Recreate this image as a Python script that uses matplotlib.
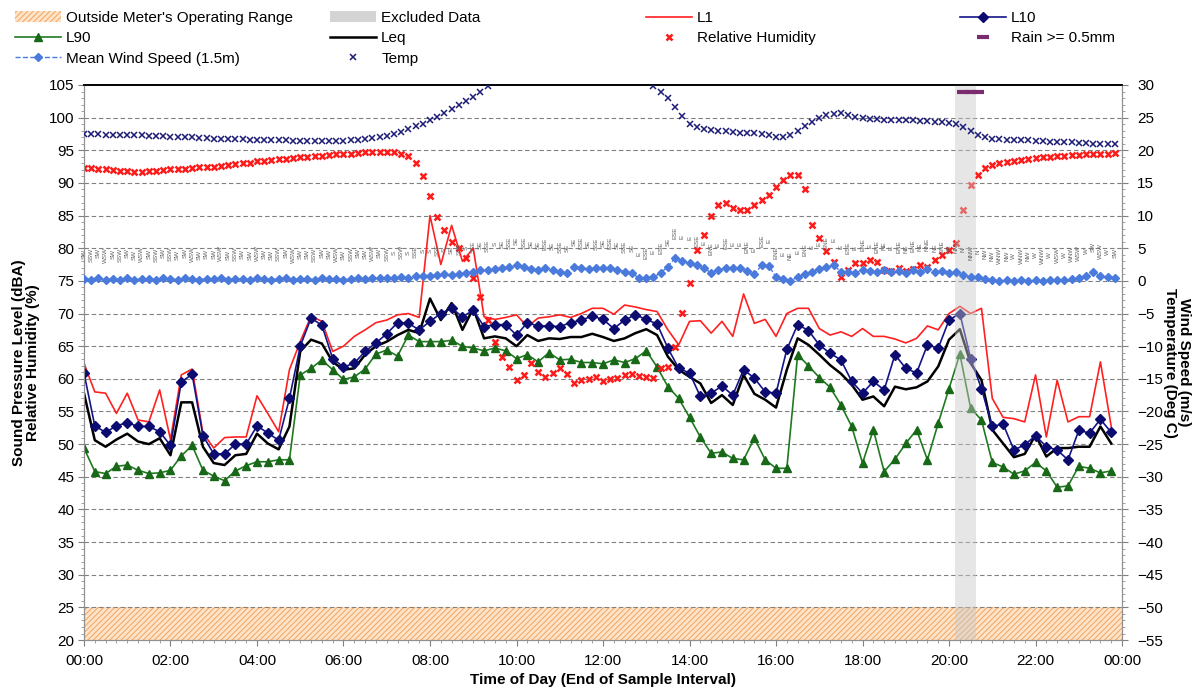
import numpy as np
import matplotlib.pyplot as plt
from matplotlib.lines import Line2D
from matplotlib.patches import Patch
from matplotlib.ticker import MultipleLocator

plt.rcParams['font.family'] = ['Liberation Sans', 'DejaVu Sans']
plt.rcParams['hatch.linewidth'] = 0.7

# noise levels, 15 minute intervals (dBA)
t15 = np.arange(96) * 0.25
L1 = [62.4, 58.0, 57.8, 54.7, 57.8, 53.7, 53.4, 58.3, 50.7, 60.6, 61.5, 51.7,
      49.4, 51.0, 51.1, 51.1, 57.4, 54.7, 51.9, 61.4, 65.7, 69.6, 68.8, 64.2,
      65.0, 66.5, 67.5, 68.6, 69.0, 69.8, 70.0, 69.4, 85.0, 77.5, 83.5, 78.0,
      80.0, 69.5, 69.1, 69.4, 69.8, 68.0, 69.3, 69.5, 69.8, 69.4, 70.0, 70.8,
      70.8, 69.9, 71.3, 71.0, 70.6, 70.3, 67.5, 65.2, 68.8, 68.9, 67.0, 68.8,
      66.5, 73.0, 68.5, 69.1, 66.5, 70.0, 70.8, 70.8, 67.7, 66.7, 67.2, 66.5,
      67.7, 66.5, 66.5, 66.1, 65.5, 66.2, 68.1, 67.5, 70.0, 71.1, 70.0, 70.8,
      57.0, 54.1, 53.9, 53.4, 60.6, 51.1, 59.8, 53.4, 54.2, 54.2, 62.6, 52.7]
L10 = [60.9, 52.8, 51.8, 52.8, 53.3, 52.7, 52.7, 51.9, 49.8, 59.5, 60.7, 51.3,
       48.5, 48.5, 50.0, 50.0, 52.8, 51.7, 50.6, 57.0, 65.0, 69.3, 68.2, 63.1,
       61.8, 62.4, 64.2, 65.5, 66.9, 68.6, 68.5, 67.5, 68.8, 70.0, 70.8, 69.5,
       70.5, 68.0, 68.3, 68.3, 66.7, 68.6, 68.1, 68.1, 68.0, 68.6, 69.0, 69.6,
       69.1, 67.7, 69.0, 69.8, 69.1, 68.4, 64.7, 61.6, 60.9, 57.3, 57.8, 58.9,
       57.5, 61.4, 60.1, 58.0, 57.8, 64.5, 68.3, 67.4, 65.2, 63.9, 62.9, 59.6,
       57.8, 59.6, 58.3, 63.7, 61.6, 60.9, 65.2, 64.7, 69.0, 70.0, 63.1, 58.5,
       52.7, 53.1, 49.1, 49.9, 51.3, 49.6, 49.1, 47.6, 52.1, 51.7, 53.8, 51.8]
Leq = [57.8, 50.6, 49.6, 50.7, 51.6, 50.4, 50.0, 50.9, 48.3, 56.4, 56.4, 49.6,
       47.1, 46.8, 48.3, 48.5, 51.6, 50.1, 49.2, 52.7, 64.2, 66.0, 65.4, 62.6,
       61.4, 61.6, 63.7, 65.0, 65.7, 66.7, 67.5, 67.0, 72.3, 69.0, 71.6, 67.5,
       70.8, 66.2, 66.5, 66.2, 65.0, 66.7, 65.8, 66.2, 66.1, 66.4, 66.4, 66.9,
       66.4, 65.8, 66.2, 67.0, 67.6, 66.7, 63.4, 61.4, 60.3, 59.3, 56.3, 57.5,
       56.0, 60.6, 57.7, 56.8, 55.6, 61.4, 66.2, 65.2, 63.7, 62.1, 60.8, 59.1,
       56.8, 57.3, 55.8, 58.8, 58.4, 58.7, 59.6, 61.9, 66.0, 67.6, 62.4, 59.8,
       52.2, 50.1, 48.0, 48.5, 51.4, 48.1, 49.4, 49.4, 49.6, 49.6, 52.7, 50.1]
L90 = [49.4, 45.8, 45.5, 46.6, 46.8, 46.0, 45.5, 45.6, 46.0, 48.2, 49.8, 46.0,
       45.1, 44.4, 45.9, 46.7, 47.3, 47.3, 47.6, 47.6, 60.6, 61.6, 62.9, 61.4,
       59.9, 60.3, 61.5, 63.8, 64.4, 63.5, 66.7, 65.7, 65.7, 65.7, 65.9, 65.0,
       64.7, 64.3, 64.7, 64.3, 63.1, 63.7, 62.6, 64.0, 62.9, 63.0, 62.5, 62.5,
       62.3, 62.9, 62.5, 63.1, 64.3, 61.8, 58.8, 57.0, 54.1, 51.1, 48.6, 48.8,
       47.8, 47.6, 50.9, 47.6, 46.3, 46.3, 63.7, 62.0, 60.2, 58.7, 56.0, 52.7,
       47.1, 52.2, 45.8, 47.7, 50.1, 52.2, 47.6, 53.2, 58.5, 63.8, 55.5, 53.7,
       47.2, 46.5, 45.4, 45.9, 47.2, 45.9, 43.4, 43.6, 46.6, 46.3, 45.6, 45.9]

# weather, 10 minute intervals
t10 = np.arange(144) / 6
rh = [92.3, 92.3, 92.2, 92.1, 92.0, 91.9, 91.8, 91.7, 91.7, 91.8, 91.9, 92.0,
      92.1, 92.2, 92.2, 92.3, 92.4, 92.4, 92.5, 92.6, 92.7, 92.9, 93.0, 93.1,
      93.3, 93.4, 93.5, 93.6, 93.7, 93.8, 93.9, 94.0, 94.1, 94.2, 94.3, 94.4,
      94.5, 94.5, 94.6, 94.7, 94.7, 94.8, 94.8, 94.7, 94.5, 94.1, 93.0, 91.0,
      88.0, 84.8, 82.8, 81.0, 80.0, 78.5, 75.5, 72.5, 69.0, 65.7, 63.4, 61.8,
      59.8, 60.6, 62.4, 61.1, 60.3, 60.9, 61.6, 60.7, 59.4, 59.8, 60.0, 60.3,
      59.6, 59.9, 60.2, 60.6, 60.7, 60.4, 60.3, 60.1, 61.6, 61.8, 64.9, 70.1,
      74.6, 79.7, 82.1, 85.0, 86.6, 86.9, 86.2, 85.9, 85.9, 86.6, 87.4, 88.2,
      89.4, 90.5, 91.2, 91.2, 89.0, 83.6, 81.6, 79.5, 77.9, 75.6, 76.7, 77.7,
      77.7, 78.2, 77.9, 76.7, 76.5, 77.0, 76.5, 76.8, 77.4, 77.2, 78.2, 79.0,
      79.7, 80.8, 85.9, 89.7, 91.2, 92.3, 92.7, 93.0, 93.2, 93.4, 93.5, 93.7,
      93.8, 93.9, 94.0, 94.1, 94.2, 94.3, 94.3, 94.4, 94.4, 94.5, 94.5, 94.6]
temp = [22.5, 22.5, 22.5, 22.4, 22.4, 22.4, 22.3, 22.3, 22.3, 22.2, 22.2, 22.2,
        22.1, 22.1, 22.0, 22.0, 21.9, 21.9, 21.8, 21.8, 21.7, 21.7, 21.7, 21.6,
        21.6, 21.6, 21.5, 21.5, 21.5, 21.4, 21.4, 21.4, 21.4, 21.4, 21.4, 21.4,
        21.4, 21.5, 21.6, 21.7, 21.9, 22.0, 22.2, 22.5, 22.8, 23.2, 23.7, 24.1,
        24.6, 25.1, 25.7, 26.3, 26.9, 27.5, 28.2, 28.9, 29.8, 30.5, 31.0, 31.5,
        32.0, 32.4, 32.8, 33.1, 33.4, 33.6, 33.8, 34.0, 34.1, 34.2, 34.2, 34.1,
        34.0, 33.7, 33.3, 32.8, 32.1, 31.4, 30.6, 29.8, 28.9, 28.0, 26.6, 25.3,
        24.0, 23.6, 23.3, 23.1, 23.0, 22.9, 22.8, 22.7, 22.6, 22.6, 22.5, 22.3,
        22.1, 22.0, 22.4, 23.0, 23.7, 24.4, 25.0, 25.4, 25.6, 25.7, 25.4, 25.1,
        24.9, 24.8, 24.8, 24.7, 24.7, 24.7, 24.6, 24.6, 24.5, 24.5, 24.4, 24.3,
        24.2, 24.0, 23.6, 23.0, 22.4, 22.0, 21.8, 21.7, 21.6, 21.6, 21.5, 21.5,
        21.4, 21.4, 21.3, 21.3, 21.2, 21.2, 21.1, 21.1, 21.0, 21.0, 20.9, 20.9]
wind = [0.3, 0.2, 0.4, 0.2, 0.3, 0.2, 0.4, 0.2, 0.3, 0.3, 0.2, 0.4,
        0.3, 0.2, 0.4, 0.3, 0.2, 0.3, 0.3, 0.4, 0.2, 0.3, 0.3, 0.2,
        0.4, 0.3, 0.2, 0.3, 0.4, 0.2, 0.3, 0.3, 0.2, 0.4, 0.3, 0.3,
        0.2, 0.3, 0.4, 0.3, 0.4, 0.5, 0.4, 0.5, 0.6, 0.5, 0.7, 0.8,
        0.8, 0.9, 1.0, 0.9, 1.1, 1.2, 1.4, 1.7, 1.6, 1.8, 1.9, 2.1,
        2.4, 2.1, 1.8, 1.7, 1.9, 1.6, 1.4, 1.2, 2.2, 2.0, 1.8, 1.9,
        2.0, 2.0, 1.7, 1.4, 1.2, 0.4, 0.5, 0.6, 1.2, 2.2, 3.5, 3.0,
        2.7, 2.4, 2.0, 1.2, 1.7, 2.0, 1.9, 1.9, 1.5, 1.0, 2.4, 2.3,
        0.6, 0.3, 0.0, 0.6, 1.0, 1.4, 1.8, 2.1, 2.4, 1.4, 1.3, 1.2,
        1.7, 1.5, 1.4, 1.6, 1.3, 1.5, 1.2, 1.6, 1.4, 1.8, 1.3, 1.5,
        1.2, 1.4, 0.9, 0.6, 0.6, 0.3, 0.1, 0.0, 0.1, 0.0, 0.1, 0.0,
        0.1, 0.0, 0.1, 0.2, 0.1, 0.3, 0.4, 0.8, 1.4, 0.7, 0.6, 0.5]
wind_dir = ["SW", "SSW", "SW", "WSW", "SW", "SSW", "SW", "SW", "WSW", "SW", "SSW", "SW",
            "SSW", "SW", "SW", "WSW", "SW", "SW", "SW", "WSW", "SW", "SSW", "SW", "SW",
            "WSW", "SW", "SW", "SSW", "SW", "WSW", "SW", "SW", "SSW", "SW", "SW", "WSW",
            "SW", "SSW", "SW", "SW", "WSW", "SW", "SSW", "S", "SSW", "S", "SSE", "S",
            "S", "SSE", "S", "SE", "SSE", "S", "SSE", "SE", "SSE", "S", "SE", "SSE",
            "SE", "SSE", "SE", "SE", "ESE", "SE", "SSE", "SE", "SE", "ESE", "SE", "SSE",
            "SE", "ESE", "SE", "SSE", "SE", "E", "ESE", "E", "ESE", "SE", "ESE", "E",
            "E", "ESE", "E", "ENE", "E", "ESE", "E", "E", "ENE", "E", "ESE", "E",
            "ENE", "E", "NE", "E", "ENE", "E", "E", "ENE", "E", "E", "ESE", "E",
            "ENE", "E", "ENE", "NE", "E", "ENE", "NE", "ENE", "NE", "NNE", "NE", "ENE",
            "NE", "NNE", "N", "NNW", "N", "NW", "NW", "WNW", "NW", "W", "WNW", "NW",
            "W", "WNW", "W", "WSW", "W", "WNW", "WSW", "W", "SW", "WSW", "W", "SW"]

rain_t = [20 + 20 / 60, 20.5, 20 + 40 / 60]
rain_v = [29.0, 29.0, 29.0]
excluded = (20.13, 20.62)

fig = plt.figure(figsize=(11.98, 6.92), dpi=100)
ax = fig.add_axes([0.0701, 0.0751, 0.8665, 0.8021])
ax.set_xlim(0, 24)
ax.set_ylim(20, 105)
ax2 = ax.twinx()
ax2.set_ylim(-55, 30)

# operating range band and grid
ax.axhspan(20, 25, facecolor='#fde3c8', edgecolor='#f2a45e', hatch='//////',
           linewidth=0, zorder=0.5)
for v in range(25, 105, 5):
    ax.axhline(v, color='#808080', lw=0.8, ls=(0, (4, 2.5)), zorder=0.6)

c_l1 = '#ff2020'
c_l10 = '#14148a'
c_l90 = '#1f7a1f'
c_wind = '#4a7bdc'
c_temp = '#1c1c78'
c_rain = '#7a2c6e'

ax.plot(t15, L1, color=c_l1, lw=1.2, zorder=2)
ax.plot(t15, L90, color=c_l90, lw=1.2, marker='^', ms=6, mfc='#186818', mec='#186818', zorder=3)
ax.plot(t15, Leq, color='black', lw=1.8, zorder=4)
ax.plot(t15, L10, color=c_l10, lw=1.2, marker='D', ms=5, mfc='#0c0c70', mec='#0c0c70', zorder=5)
ax.plot(t10, rh, ls='none', marker='x', ms=5, mew=1.8, color='#ff1a1a', zorder=6)

ax2.axvspan(*excluded, color='#c8c8c8', alpha=0.45, lw=0, zorder=0)
ax2.plot(t10, wind, color=c_wind, lw=1, ls='--', marker='D', ms=4, mfc=c_wind, mec=c_wind, zorder=3)
ax2.plot(t10, temp, ls='none', marker='x', ms=5, mew=1.1, color=c_temp, zorder=4)
ax2.plot(rain_t, rain_v, ls='none', marker='_', ms=9, mew=3, color=c_rain, zorder=5)
for x, w, d in zip(t10, wind, wind_dir):
    ax2.text(x, w + 3.8, d, rotation=90, fontsize=4.5, color='#606060',
             ha='center', va='center', zorder=2)

# axes styling
ax.set_xticks(range(0, 25, 2))
ax.set_xticklabels([f"{h % 24:02d}:00" for h in range(0, 25, 2)])
ax.xaxis.set_minor_locator(MultipleLocator(0.25))
for a in (ax, ax2):
    a.yaxis.set_major_locator(MultipleLocator(5))
    a.yaxis.set_minor_locator(MultipleLocator(1))
    a.tick_params(which='major', length=4, color='#808080', labelsize=11, pad=3)
    a.tick_params(which='minor', length=2, color='#909090')
    for s in ('left', 'right', 'bottom'):
        a.spines[s].set_color('#909090')
    a.spines['top'].set_color('black')
    a.spines['top'].set_linewidth(1.2)
ax.tick_params(axis='x', pad=6)
ax2.tick_params(axis='y', pad=7)

ax.set_xlabel("Time of Day (End of Sample Interval)", fontsize=11, fontweight='bold', labelpad=4)
ax.set_ylabel("Sound Pressure Level (dBA)\nRelative Humidity (%)", fontsize=11,
              fontweight='bold', linespacing=1.0)
ax.yaxis.set_label_coords(-0.042, 0.5)
ax2.set_ylabel("Wind Speed (m/s)\nTemperature (Deg C)", fontsize=11, fontweight='bold',
               rotation=270, va='bottom', linespacing=1.0)
ax2.yaxis.set_label_coords(1.039, 0.5)

# legend, one block per column
fs = 11
hatch_patch = Patch(facecolor='#fde3c8', edgecolor='#f2a45e', hatch='//////', linewidth=0)
excl_patch = Patch(facecolor='#d4d4d4', edgecolor='none')
columns = [
    (15, [(hatch_patch, "Outside Meter's Operating Range"),
          (Line2D([], [], color=c_l90, lw=1.2, marker='^', ms=6, mfc='#186818', mec='#186818'), "L90"),
          (Line2D([], [], color=c_wind, lw=1, ls='--', marker='D', ms=4, mfc=c_wind, mec=c_wind),
           "Mean Wind Speed (1.5m)")]),
    (330, [(excl_patch, "Excluded Data"),
           (Line2D([], [], color='black', lw=1.8), "Leq"),
           (Line2D([], [], ls='none', marker='x', ms=5, mew=1.1, color=c_temp), "Temp")]),
    (646, [(Line2D([], [], color=c_l1, lw=1.2), "L1"),
           (Line2D([], [], ls='none', marker='x', ms=5, mew=1.8, color='#ff1a1a'), "Relative Humidity")]),
    (960, [(Line2D([], [], color=c_l10, lw=1.2, marker='D', ms=5, mfc='#0c0c70', mec='#0c0c70'), "L10"),
           (Line2D([], [], ls='none', marker='_', ms=9, mew=3, color=c_rain), "Rain >= 0.5mm")]),
]
for xpx, entries in columns:
    fig.legend([h for h, _ in entries], [l for _, l in entries], loc='upper left',
               bbox_to_anchor=(xpx / 1198, 1 - 11 / 692), frameon=False, fontsize=fs,
               borderpad=0, borderaxespad=0, handlelength=3.0, handletextpad=0.35,
               labelspacing=0.42)

fig.savefig("out.png", dpi=100, facecolor='white')
